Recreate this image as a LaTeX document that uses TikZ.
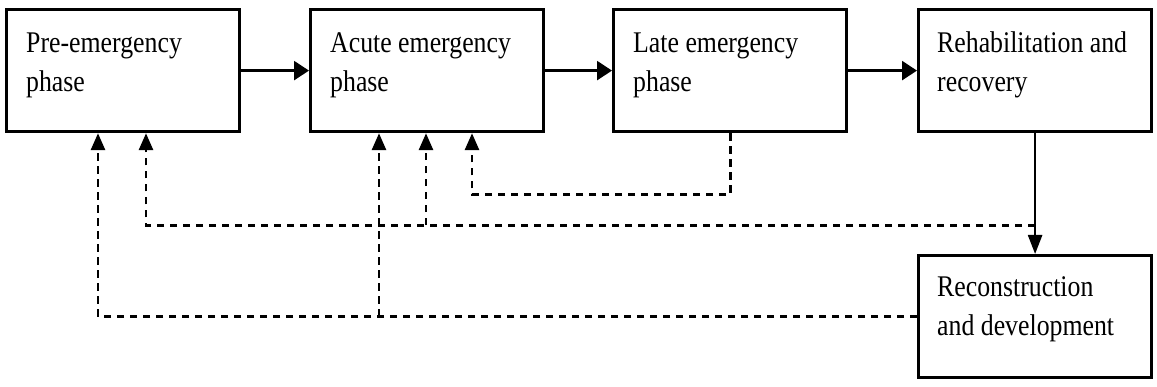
\documentclass[tikz,border=0pt]{standalone}
\usepackage{fontspec}
\setmainfont{Liberation Serif}[FakeStretch=0.86]
\usetikzlibrary{arrows.meta,calc}
\begin{document}
\begin{tikzpicture}[x=1pt,y=-1pt,
  phasebox/.style={draw,line width=3.2pt,rectangle,minimum width=233pt,minimum height=122pt,inner sep=0pt,anchor=north west},
  phasetext/.style={anchor=base west,align=left,inner sep=0pt,font=\fontsize{30}{39}\selectfont},
  solidarrow/.style={line width=2.5pt,-{Triangle[length=15pt,width=19pt]}},
  downarrow/.style={line width=2.5pt,-{Triangle[length=19pt,width=14pt]}},
  dashline/.style={line width=2.9pt,dash pattern=on 7.5pt off 5.5pt},
  dasharrow/.style={dashline,-{Triangle[length=17pt,width=14pt]}}
]
\useasboundingbox[fill=white] (0,0) rectangle (1157,387);

\node[phasebox] (b1) at (5,8) {};
\node[phasebox] (b2) at (309,8) {};
\node[phasebox] (b3) at (612,8) {};
\node[phasebox] (b4) at (917,8) {};
\node[phasebox] (b5) at (917,254) {};

% base anchor of a two-line node = baseline of its last line
\node[phasetext] (t1) at ($(b1.north west)+(21,84)$) {Pre-emergency\\phase};
\node[phasetext] (t2) at ($(b2.north west)+(21,84)$) {Acute emergency\\phase};
\node[phasetext] (t3) at ($(b3.north west)+(21,84)$) {Late emergency\\phase};
\node[phasetext] (t4) at ($(b4.north west)+(20,84)$) {Rehabilitation and\\recovery};
\node[phasetext] (t5) at ($(b5.north west)+(20,82)$) {Reconstruction\\and development};

% solid flow
\draw[solidarrow] (b1.east) -- (b2.west);
\draw[solidarrow] (b2.east) -- (b3.west);
\draw[solidarrow] (b3.east) -- (b4.west);
\draw[downarrow] (b4.south) -- (b5.north);

% entry points
\coordinate (b1inA) at ($(b1.south west)+(93,0)$);
\coordinate (b1inB) at ($(b1.south west)+(141,0)$);
\coordinate (b2inA) at ($(b2.south west)+(70,0)$);
\coordinate (b2inB) at ($(b2.south west)+(117,0)$);
\coordinate (b2inC) at ($(b2.south west)+(163,0)$);
\coordinate (j1) at ($(b4.south)+(0,92)$);

% feedback loops
\draw[dasharrow] (b3.south) -- ++(0,61) -| (b2inC);
\draw[dasharrow] (j1) -| (b1inB);
\draw[dasharrow] (b2inB |- j1) -- (b2inB);
\draw[dasharrow] (b5.west) -| (b1inA);
\draw[dasharrow] (b2inA |- b5.west) -- (b2inA);
\end{tikzpicture}
\end{document}
